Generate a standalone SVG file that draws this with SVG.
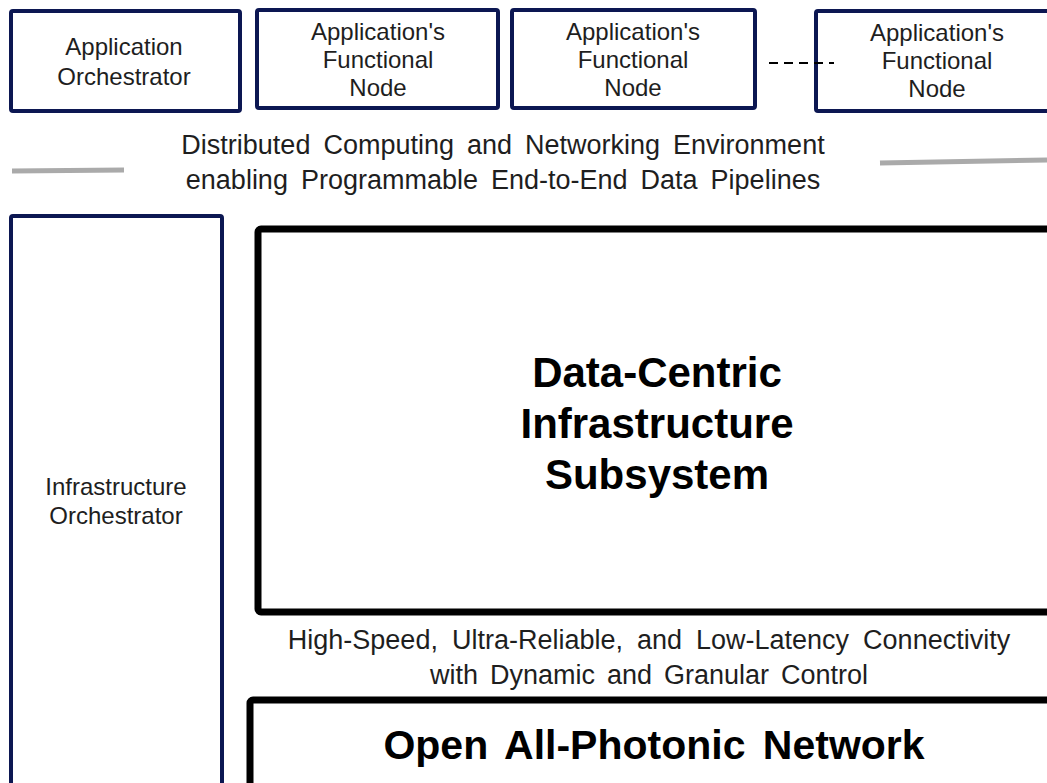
<svg xmlns="http://www.w3.org/2000/svg" width="1047" height="783" viewBox="0 0 1047 783">
<style>
.nb{fill:#fff;stroke:#0c1752;stroke-width:4}
.bb{fill:#fff;stroke:#000;stroke-width:7}
.t{font-family:"Liberation Sans",Arial,sans-serif;fill:#1e1e1e;text-anchor:middle}
.s{font-size:24px}
.m{font-size:27px}
.b{font-size:42px;font-weight:bold;fill:#000}
.g{stroke:#aaa;stroke-width:5;fill:none}
</style>
<rect width="1047" height="783" fill="#fff"/>
<g id="app-orchestrator">
<rect class="nb" x="11" y="11" width="229" height="100" rx="2"/>
<text class="t s" x="124" y="55">Application</text>
<text class="t s" x="124" y="85">Orchestrator</text>
</g>
<g id="func-node-1">
<rect class="nb" x="257" y="10" width="241" height="98" rx="2"/>
<text class="t s" x="378" y="40">Application's</text>
<text class="t s" x="378" y="68">Functional</text>
<text class="t s" x="378" y="96">Node</text>
</g>
<g id="func-node-2">
<rect class="nb" x="512" y="10" width="243" height="98" rx="2"/>
<text class="t s" x="633" y="40">Application's</text>
<text class="t s" x="633" y="68">Functional</text>
<text class="t s" x="633" y="96">Node</text>
</g>
<g id="func-node-3">
<rect class="nb" x="816" y="11" width="240" height="100" rx="2"/>
<text class="t s" x="937" y="41">Application's</text>
<text class="t s" x="937" y="69">Functional</text>
<text class="t s" x="937" y="97">Node</text>
</g>
<g id="connectors">
<line x1="769" y1="63" x2="834" y2="63" stroke="#000" stroke-width="2" stroke-dasharray="9,6"/>
<line class="g" x1="12" y1="171" x2="124" y2="170"/>
<line class="g" x1="880" y1="163" x2="1047" y2="160"/>
</g>
<g id="env-label">
<text class="t m" x="503" y="154" word-spacing="5.5">Distributed Computing and Networking Environment</text>
<text class="t m" x="503" y="189" word-spacing="5.5">enabling Programmable End-to-End Data Pipelines</text>
</g>
<g id="infra-orchestrator">
<rect class="nb" x="11" y="216" width="211" height="600" rx="2"/>
<text class="t s" x="116" y="495">Infrastructure</text>
<text class="t s" x="116" y="524">Orchestrator</text>
</g>
<g id="data-centric">
<rect class="bb" x="258" y="229" width="820" height="383" rx="3"/>
<text class="t b" x="657" y="387">Data-Centric</text>
<text class="t b" x="657" y="438">Infrastructure</text>
<text class="t b" x="657" y="489">Subsystem</text>
</g>
<g id="conn-label">
<text class="t m" x="649" y="649" word-spacing="6.5">High-Speed, Ultra-Reliable, and Low-Latency Connectivity</text>
<text class="t m" x="649" y="684" word-spacing="4.5">with Dynamic and Granular Control</text>
</g>
<g id="photonic">
<rect class="bb" x="250" y="700" width="820" height="120" rx="3"/>
<text class="t b" x="654" y="759" style="font-size:41px" word-spacing="6">Open All-Photonic Network</text>
</g>
</svg>
